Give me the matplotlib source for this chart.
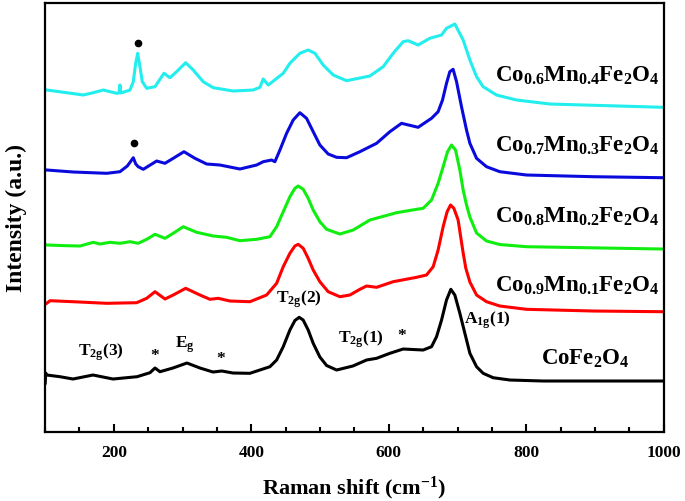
import matplotlib
matplotlib.use('Agg')
import matplotlib.pyplot as plt
from matplotlib.ticker import MultipleLocator

plt.rcParams['font.family'] = 'Liberation Serif'
plt.rcParams['font.weight'] = 'bold'
plt.rcParams['mathtext.fontset'] = 'custom'
plt.rcParams['mathtext.rm'] = 'Liberation Serif:bold'
plt.rcParams['mathtext.it'] = 'Liberation Serif:bold'
plt.rcParams['mathtext.bf'] = 'Liberation Serif:bold'
plt.rcParams['mathtext.default'] = 'rm'

# spectra (Raman shift, offset intensity in a.u.)
x_co = [100.3, 101, 102.5, 121.8, 140.7, 169.8, 198.9, 233.8, 252.7, 260, 267.2, 286.1,
        306.5, 325.4, 344.3, 357.3, 373.3, 398, 427.1, 436.9, 446.5, 456.2, 463.5, 469.7,
        475.5, 482.8, 490.1, 499.8, 509.6, 524.1, 547.8, 567.7, 582.3, 601.6, 620.9, 650,
        662.2, 669.5, 676.8, 684, 690.3, 696.1, 703.4, 710.7, 718, 727.7, 737.3, 751.8,
        776.1, 824.5, 998.5]
y_co = [49, 59, 57, 55.3, 53, 57, 53, 55.3, 59.3, 64, 60.3, 64,
        69, 64, 60, 61, 59, 58.7, 65.3, 72, 85.3, 102, 111.5, 114.7,
        112, 102, 88.7, 75, 66.5, 62, 66, 72, 73.7, 78.7, 83, 82,
        85.3, 95.3, 112, 132, 142.7, 137, 118.7, 98.7, 78.7, 65.3, 58.7, 54.3,
        52, 51, 51]

x_mn01 = [102.5, 107.3, 140.7, 189.7, 233.3, 247.9, 260, 274.5, 286.5, 304.6, 325.4, 339.9,
          352, 369, 398, 422.3, 436.9, 446.5, 456.2, 463.5, 468.3, 475.6, 482.8, 490.1,
          499.8, 511.9, 528.9, 543.5, 558, 567.7, 582.3, 606.4, 640.4, 654.9, 664.6, 671.8,
          679.1, 684.9, 689.9, 694.7, 700.9, 704, 708, 712, 718, 727.7, 742.2, 761.5,
          800.3, 897.2, 998.5]
y_mn01 = [128.7, 131.3, 130.3, 128.7, 129.3, 133.7, 140.3, 133, 137, 143.7, 137, 132.7,
          133.7, 131, 130.3, 137, 148.7, 165.3, 178.7, 186, 187.7, 183.7, 173.7, 162,
          150.3, 140.3, 135.3, 137, 142.7, 146, 144.7, 150.3, 154.7, 157, 165.3, 182,
          205.3, 220.3, 227, 223.7, 212, 198, 180, 164, 150, 137, 130.3, 126,
          122.7, 121, 120.3]

x_mn02 = [102.5, 131.6, 150.9, 170.2, 180, 194.5, 209, 223.6, 235.6, 247.9, 260, 274.5,
          286.5, 301.1, 320.6, 344.7, 364.2, 383.5, 407.8, 427.1, 436.9, 446.5, 456.2, 463.5,
          468.3, 475.6, 482.8, 490.1, 499.8, 509.6, 528.9, 548.3, 572.5, 611.3, 640.4, 650,
          662.2, 671.8, 679.1, 685.5, 691.3, 697.1, 703.4, 708.2, 713.1, 718, 727.7, 742.2,
          761.5, 800.3, 998.5]
y_mn02 = [187, 186.3, 186, 189.7, 188, 189.7, 188.7, 190.3, 188.7, 192.7, 197.7, 193.7,
          198.7, 205.3, 199.7, 196, 194.7, 191.3, 192.7, 195.3, 205.3, 220.3, 235.3, 243.7,
          246, 242.7, 233.7, 222, 210.3, 202.7, 198, 202, 212, 219.3, 222.7, 223.7,
          232, 248.7, 265.3, 280.3, 287, 282, 262, 242, 227, 215, 199, 191,
          187.5, 185.3, 183]

x_mn03 = [102.5, 141.1, 189.7, 209, 219.7, 224, 228.4, 232, 235.6, 242.9, 262.4, 274.5,
          286.5, 302.1, 318.1, 335.1, 354.4, 383.5, 407.8, 417.4, 429.6, 434.4, 441.7, 451.4,
          461, 470.7, 480.4, 490.1, 499.8, 511.9, 524.1, 538.6, 558, 582.3, 601.6, 618.6,
          642.7, 662.2, 671.8, 678.2, 684, 688.8, 693.6, 698.6, 705.8, 713.1, 718, 727.7,
          742.2, 761.5, 800.3, 897.2, 998.5]
y_mn03 = [262, 260, 258.7, 260.3, 266, 270, 274.3, 268, 265.3, 262.7, 271, 268.7,
          273.7, 280.3, 273.7, 268, 267, 263, 267, 270.3, 272, 270.3, 282, 298.7,
          312, 319.3, 313.7, 300.3, 287, 278, 274.7, 274.3, 280.3, 288.7, 300.3, 308.7,
          304.7, 313.7, 320.3, 332, 348.7, 360.3, 362.7, 350.3, 325.3, 302, 288.7, 273.7,
          265.3, 260.3, 257, 255.3, 254.3]

x_mn04 = [102.5, 131.6, 155.7, 170.2, 184.8, 204.2, 207.5, 209, 210.5, 223.6, 228.4, 231.9,
          234.8, 237.7, 241.5, 247.9, 260, 273, 281.7, 291.4, 304.6, 315.6, 330.1, 344.7,
          373.8, 402.8, 412.6, 417.4, 424.7, 446.5, 456.2, 470.7, 482.8, 492.6, 504.6, 519.2,
          538.6, 572.5, 591.9, 606.4, 620.9, 628.2, 642.7, 659.7, 676.7, 684, 696.1, 708.2,
          718, 727.7, 737.3, 756.7, 785.8, 834.3, 998.9]
y_mn04 = [342, 339.3, 337, 339.3, 342, 338.7, 339, 347, 339, 342, 350.3, 368.7,
          378.7, 367, 350.3, 343.7, 345.3, 358.7, 354.3, 360.3, 369.3, 362, 350.3, 344.3,
          341, 342, 344.7, 353, 347, 358.7, 368.7, 378.7, 382, 378.7, 367, 357,
          351.3, 356, 365.3, 378.7, 390.3, 391.3, 387, 393.7, 397, 403.7, 408, 392,
          372, 355.3, 345.3, 337, 332, 328, 324.7]

series = [
    (x_co, y_co, 'black', 'CoFe$_2$O$_4$', 950, 67),
    (x_mn01, y_mn01, '#ff0000', 'Co$_{0.9}$Mn$_{0.1}$Fe$_2$O$_4$', 993, 140),
    (x_mn02, y_mn02, '#10ee10', 'Co$_{0.8}$Mn$_{0.2}$Fe$_2$O$_4$', 993, 209),
    (x_mn03, y_mn03, '#0a0add', 'Co$_{0.7}$Mn$_{0.3}$Fe$_2$O$_4$', 993, 280),
    (x_mn04, y_mn04, '#22eeee', 'Co$_{0.6}$Mn$_{0.4}$Fe$_2$O$_4$', 993, 350),
]

# impurity dots and mode labels
dot_x = [229.8, 234.8]
dot_y = [288.7, 388.7]
modes = [('T$_{2g}$(3)', 181, 76), ('*', 260, 72), ('E$_g$', 303.5, 84), ('*', 356, 69),
         ('T$_{2g}$(2)', 469, 129), ('T$_{2g}$(1)', 560, 89), ('*', 618.6, 92)]

fig = plt.figure(figsize=(6.85, 5.01), dpi=100)
ax = fig.add_axes([0.0657, 0.1377, 0.9033, 0.8563])

for xs, ys, c, name, lx, ly in series:
    ax.plot(xs, ys, color=c, lw=2.2, solid_joinstyle='round')
    ax.text(lx, ly, name, ha='right', va='baseline', fontsize=16.5)

ax.plot(dot_x, dot_y, 'o', color='black', ms=4.5)
for t, mx, my in modes:
    ax.text(mx, my, t, ha='center', va='baseline', fontsize=12.5)
ax.text(710, 108.7, 'A$_{1g}$(1)', ha='left', va='baseline', fontsize=12.5)

ax.set_xlim(100, 1000)
ax.set_ylim(0, 429)
ax.xaxis.set_major_locator(MultipleLocator(200))
ax.xaxis.set_minor_locator(MultipleLocator(50))
ax.set_yticks([])
ax.tick_params(axis='x', which='major', direction='in', length=6, width=1.5,
               labelsize=12.5, pad=9)
ax.tick_params(axis='x', which='minor', direction='in', length=3.5, width=1.5)
for s in ax.spines.values():
    s.set_linewidth(1.6)

ax.set_xlabel('Raman shift (cm$^{-1}$)', fontsize=16, fontweight='bold', labelpad=10)
ax.set_ylabel('Intensity (a.u.)', fontsize=17, fontweight='bold', labelpad=13)

fig.savefig('out.png', dpi=100)
